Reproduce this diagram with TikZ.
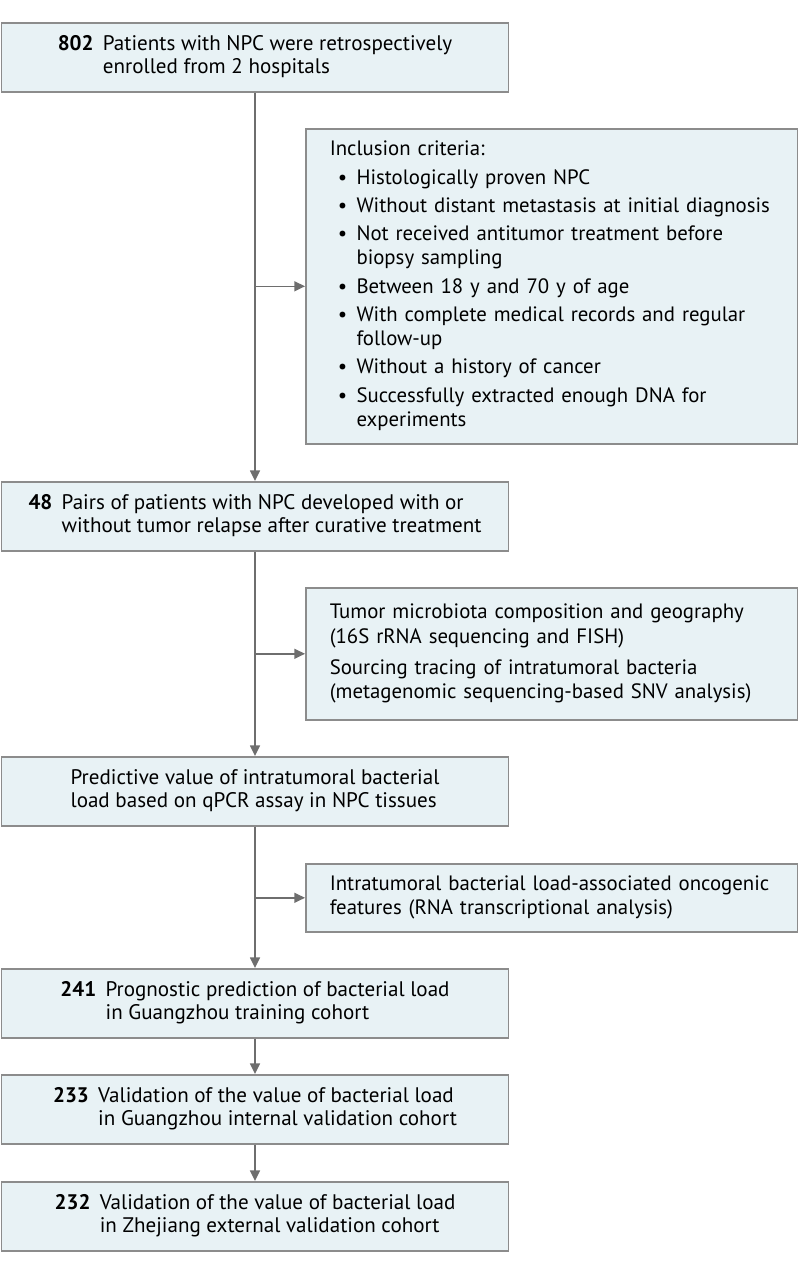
\documentclass[tikz,border=0pt]{standalone}
\usepackage{fontspec}
\setmainfont{PT Sans}
\usetikzlibrary{arrows.meta}

\definecolor{boxfill}{RGB}{232,242,245}
\definecolor{boxline}{RGB}{140,140,140}
\definecolor{arrowgray}{RGB}{110,110,110}

\newcommand{\countlines}[3]{\begin{tabular}{@{}r@{\hspace{7pt}}l@{}}\textbf{#1} & #2\\ & #3\end{tabular}}

\tikzset{every picture/.style={line width=0.75pt}}
\tikzset{
  mainbox/.style={draw=boxline, fill=boxfill, line width=1.2pt, anchor=north west,
    minimum width=380.25pt, minimum height=51.75pt, inner sep=0pt, align=center,
    font=\fontsize{15.8}{17.8}\selectfont},
  sidebox/.style={draw=boxline, fill=boxfill, line width=1.2pt, anchor=north west,
    inner xsep=18pt, inner ysep=0pt, text width=333pt, align=left,
    font=\fontsize{15.6}{18.2}\selectfont},
  flowarrow/.style={draw=arrowgray, line width=1.1pt, -{Triangle[length=8pt,width=7.5pt]}}
}

\begin{document}
\begin{tikzpicture}[x=0.75pt,y=0.75pt,yscale=-1,xscale=1]
        \useasboundingbox (0,0) rectangle (798,1269);

        %Shape: Rectangle [enrol]
        \node [mainbox] (enrol) at (0.7,22) {\countlines{802}{Patients with NPC were retrospectively}{enrolled from 2 hospitals}};
        %Shape: Rectangle [crit]
        \node [sidebox, minimum height=236.25pt] (crit) at (305,128) {%
          \begin{tabular}{@{}l@{\hspace{7pt}}l@{}}
          \multicolumn{2}{@{}l@{}}{Inclusion criteria:}\\[3pt]
          \hspace{6pt}\textbullet & Histologically proven NPC\\[3pt]
          \hspace{6pt}\textbullet & Without distant metastasis at initial diagnosis\\[3pt]
          \hspace{6pt}\textbullet & Not received antitumor treatment before\\
           & biopsy sampling\\[3pt]
          \hspace{6pt}\textbullet & Between 18 y and 70 y of age\\[3pt]
          \hspace{6pt}\textbullet & With complete medical records and regular\\
           & follow-up\\[3pt]
          \hspace{6pt}\textbullet & Without a history of cancer\\[3pt]
          \hspace{6pt}\textbullet & Successfully extracted enough DNA for\\
           & experiments
          \end{tabular}};
        %Shape: Rectangle [pairs]
        \node [mainbox] (pairs) at (0.7,481) {\countlines{48}{Pairs of patients with NPC developed with or}{without tumor relapse after curative treatment}};
        %Shape: Rectangle [micro]
        \node [sidebox, minimum height=99pt] (micro) at (305,587) {%
          \begin{tabular}{@{}l@{}}
          Tumor microbiota composition and geography\\
          (16S rRNA sequencing and FISH)\\[5pt]
          Sourcing tracing of intratumoral bacteria\\
          (metagenomic sequencing-based SNV analysis)
          \end{tabular}};
        %Shape: Rectangle [predict]
        \node [mainbox] (predict) at (0.7,756) {\begin{tabular}{@{}l@{}}Predictive value of intratumoral bacterial\\ load based on qPCR assay in NPC tissues\end{tabular}};
        %Shape: Rectangle [onco]
        \node [sidebox, minimum height=51pt] (onco) at (305,863) {%
          \begin{tabular}{@{}l@{}}
          Intratumoral bacterial load-associated oncogenic\\
          features (RNA transcriptional analysis)
          \end{tabular}};
        %Shape: Rectangle [train]
        \node [mainbox] (train) at (0.7,968) {\countlines{241}{Prognostic prediction of bacterial load}{in Guangzhou training cohort}};
        %Shape: Rectangle [intval]
        \node [mainbox] (intval) at (0.7,1074) {\countlines{233}{Validation of the value of bacterial load}{in Guangzhou internal validation cohort}};
        %Shape: Rectangle [extval]
        \node [mainbox] (extval) at (0.7,1181) {\countlines{232}{Validation of the value of bacterial load}{in Zhejiang external validation cohort}};

        %Straight Lines
        \draw [flowarrow] (enrol.south) -- (pairs.north);
        \draw [flowarrow] (enrol.south |- crit.west) -- (crit.west);
        \draw [flowarrow] (pairs.south) -- (predict.north);
        \draw [flowarrow] (pairs.south |- micro.west) -- (micro.west);
        \draw [flowarrow] (predict.south) -- (train.north);
        \draw [flowarrow] (predict.south |- onco.west) -- (onco.west);
        \draw [flowarrow] (train.south) -- (intval.north);
        \draw [flowarrow] (intval.south) -- (extval.north);

\end{tikzpicture}
\end{document}
